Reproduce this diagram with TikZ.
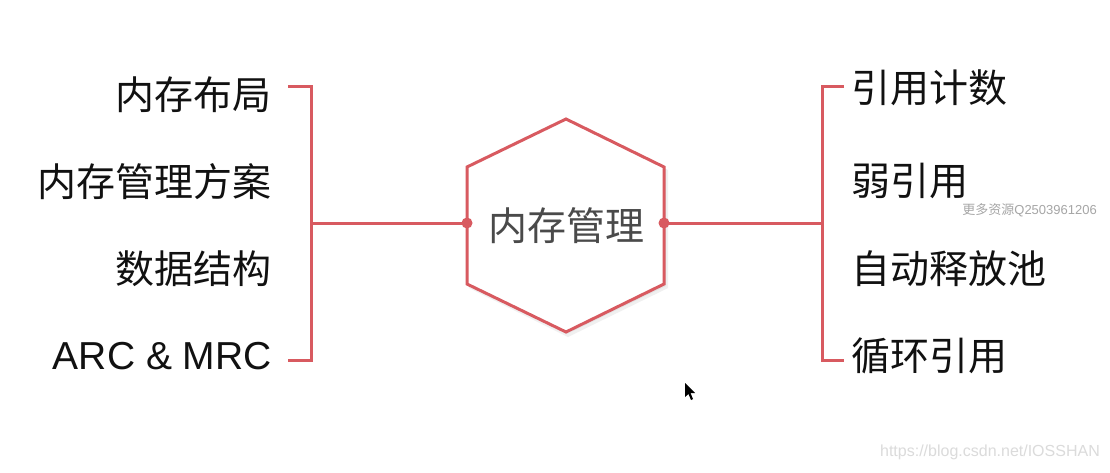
\documentclass[tikz,border=0pt]{standalone}
\usepackage{fontspec}
\setmainfont{Liberation Sans}
\newfontfamily\cjk{Noto Sans CJK SC}
\definecolor{accent}{HTML}{D85A60}
\definecolor{txt}{HTML}{111111}
\definecolor{hextxt}{HTML}{4A4A4A}
\begin{document}
\begin{tikzpicture}[x=1pt,y=-1pt,
  redline/.style={draw=accent,line width=3pt,line join=miter},
  lbl/.style={text=txt,font=\cjk\fontsize{39}{40}\selectfont,inner sep=0pt},
  latinlbl/.style={text=txt,font=\fontsize{39}{40}\selectfont,inner sep=0pt},
  dotmark/.style={fill=accent}]
\useasboundingbox[fill=white] (0,0) rectangle (1110,472);
% hexagon with soft shadow
\fill[black!6] (568,121) -- (668,170) -- (668,288) -- (568,337) -- (469,288) -- (469,170) -- cycle;
\fill[black!10] (567,120) -- (666,169) -- (666,286) -- (567,334) -- (468,286) -- (468,169) -- cycle;
\draw[redline,fill=white] (566,119) -- (664,167) -- (664,284) -- (566,332) -- (467,284) -- (467,167) -- cycle;
\node[text=hextxt,font=\cjk\fontsize{39}{40}\selectfont,inner sep=0pt] (center) at (566,226) {内存管理};
\coordinate (hl) at (467,223);
\coordinate (hr) at (664,223);
% left bracket
\coordinate (lt) at (311,86);
\coordinate (lb) at (311,360);
\coordinate (lm) at (311,223);
\coordinate (ltt) at (288,86);
\coordinate (lbb) at (288,360);
\draw[redline] (ltt) -- (lt) -- (lb) -- (lbb);
\draw[redline] (lm) -- (hl);
\fill[dotmark] (hl) circle (5.5);
% right bracket
\coordinate (rt) at (822,86);
\coordinate (rb) at (822,360);
\coordinate (rm) at (822,223);
\coordinate (rtt) at (844,86);
\coordinate (rbb) at (844,360);
\draw[redline] (rtt) -- (rt) -- (rb) -- (rbb);
\draw[redline] (hr) -- (rm);
\fill[dotmark] (hr) circle (5.5);
% left labels
\node[lbl,anchor=east] (l1) at (272,95) {内存布局};
\node[lbl,anchor=east] (l2) at (272,182) {内存管理方案};
\node[lbl,anchor=east] (l3) at (272,269) {数据结构};
\node[latinlbl,anchor=east] (l4) at (272,356) {ARC \& MRC};
% right labels
\node[lbl,anchor=west] (r1) at (851,88) {引用计数};
\node[lbl,anchor=west] (r2) at (851,181) {弱引用};
\node[lbl,anchor=west] (r3) at (851,269) {自动释放池};
\node[lbl,anchor=west] (r4) at (851,356) {循环引用};
% watermarks
\node[text=black!35,font=\fontsize{13}{14}\selectfont,inner sep=0pt,anchor=east] (wm1) at (1097,210) {{\cjk 更多资源}Q2503961206};
\node[text=black!14,font=\fontsize{16}{18}\selectfont,inner sep=0pt,anchor=east] (wm2) at (1100,452) {https://blog.csdn.net/IOSSHAN};
% cursor
\fill[black] (685,383) -- (685,397) -- (688.5,394) -- (691,400) -- (693,399) -- (690.5,393) -- (695,393) -- cycle;
\end{tikzpicture}
\end{document}
